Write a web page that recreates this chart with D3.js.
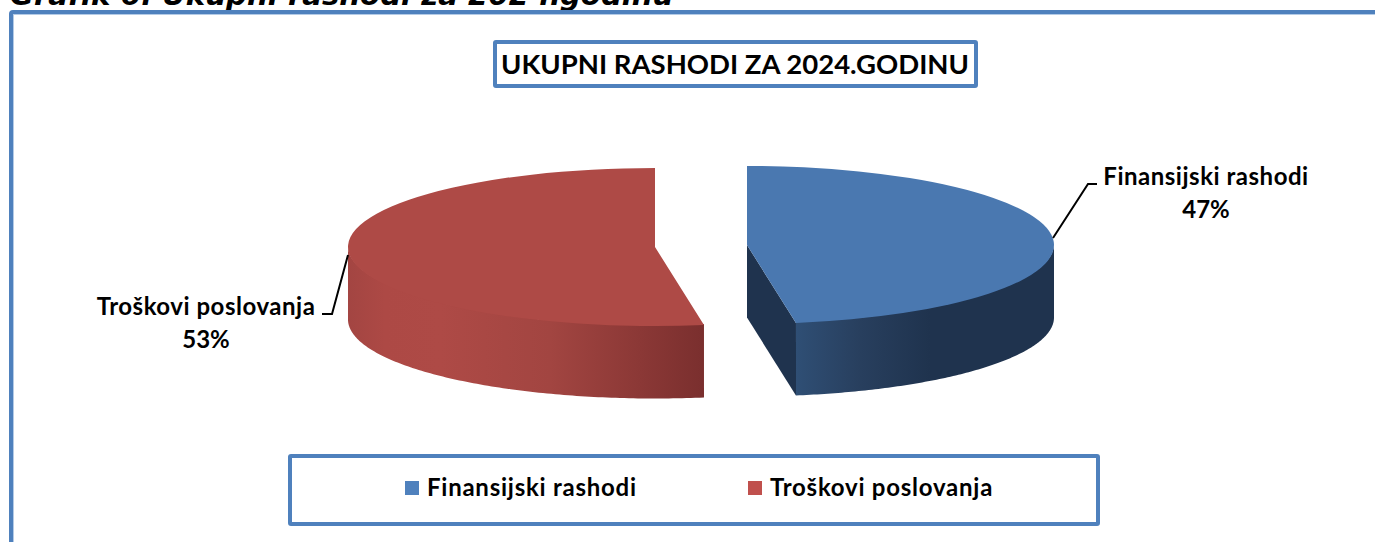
<!DOCTYPE html>
<html>
<head>
<meta charset="utf-8">
<script src="https://d3js.org/d3.v7.min.js"></script>
<style>
  html, body { margin: 0; padding: 0; background: #fff; overflow: hidden; }
  text { fill: #000; font-family: Lato, "Open Sans", sans-serif; font-weight: 700; }
</style>
</head>
<body>
<div id="chart"></div>
<script>
// values (labels round them to 47% / 53%)
var categories = ["Finansijski rashodi", "Troškovi poslovanja"];
var values = [47.45, 52.55];
var chartTitle = "UKUPNI RASHODI ZA 2024.GODINU";
var pageHeading = "Grafik 6. Ukupni rashodi za 202 ngodinu";

var width = 1375, height = 542;
var frameColor = "#4f81bd";
var legendColors = ["#4f81bd", "#c0504d"];
var topColors = ["#4a78b0", "#ae4a46"];

// pie geometry: slices are pulled apart, each has its own centre
var rx = 307, ry = 79, depth = 72.5;
var centers = [{x: 747, y: 245}, {x: 655, y: 247}];

var svg = d3.select("#chart")
  .append("svg")
    .attr("width", width)
    .attr("height", height);

// side wall shading
var defs = svg.append("defs");
function wallGradient(id, x1, x2, stops) {
  var g = defs.append("linearGradient")
    .attr("id", id)
    .attr("gradientUnits", "userSpaceOnUse")
    .attr("x1", x1).attr("x2", x2).attr("y1", 0).attr("y2", 0);
  stops.forEach(function(s) {
    g.append("stop").attr("offset", (s[0] - x1) / (x2 - x1)).attr("stop-color", s[1]);
  });
}
wallGradient("wall0", 795, 1054, [[795, "#2f4f75"], [860, "#283f5e"], [930, "#1f334e"], [1054, "#1f334e"]]);
wallGradient("wall1", 348, 704, [[348, "#a34542"], [385, "#ad4945"], [440, "#ae4a46"], [550, "#a24541"], [640, "#8b3836"], [704, "#7a2f2e"]]);

// heading from the page, cut off by the top of the window as in the source
svg.append("text")
  .attr("x", 10)
  .attr("y", 5)
  .style("font-family", "'DejaVu Sans'")
  .style("font-style", "italic")
  .style("font-size", "29.2px")
  .text(pageHeading);

// outer frame runs off the right and bottom edges
svg.append("rect")
  .attr("x", 11).attr("y", 12)
  .attr("width", 1400).attr("height", 600)
  .attr("rx", 2)
  .attr("fill", "none")
  .attr("stroke", frameColor)
  .attr("stroke-width", 4);
svg.append("rect")
  .attr("x", 13.5).attr("y", 14.5)
  .attr("width", 1400).attr("height", 600)
  .attr("fill", "none")
  .attr("stroke", "#b4cbe6")
  .attr("stroke-width", 1);

// title box
svg.append("rect")
  .attr("x", 495).attr("y", 42)
  .attr("width", 481).attr("height", 44)
  .attr("rx", 1)
  .attr("fill", "#fff")
  .attr("stroke", frameColor)
  .attr("stroke-width", 4);
svg.append("text")
  .attr("x", 735)
  .attr("y", 74)
  .attr("text-anchor", "middle")
  .style("font-size", "27.5px")
  .text(chartTitle);

// pie slices
var pie = d3.pie().sort(null);
var arcs = pie(values);
var arcGen = d3.arc().innerRadius(0).outerRadius(rx);

// point on the ellipse; angle 0 is 12 o'clock, clockwise
function rimPoint(c, a, dy) {
  return [c.x + rx * Math.sin(a), c.y - ry * Math.cos(a) + dy];
}

// outer wall between two angles, walked along top rim then back along bottom rim
// top rim sits 1px up so no white seam shows under the top face
function wallPath(c, a0, a1) {
  var steps = d3.range(0, 121).map(function(i) { return a0 + (a1 - a0) * i / 120; });
  var upper = steps.map(function(a) { return rimPoint(c, a, -1); });
  var lower = steps.slice().reverse().map(function(a) { return rimPoint(c, a, depth); });
  return d3.line()(upper.concat(lower)) + "Z";
}

var slices = svg.append("g");

// Finansijski rashodi: cut face shows, right half of the rim
var blue = arcs[0];
var c0 = centers[0];
var blueEnd = rimPoint(c0, blue.endAngle, 0);
slices.append("path")
  .attr("d", d3.line()([[c0.x, c0.y], blueEnd, [blueEnd[0], blueEnd[1] + depth], [c0.x, c0.y + depth]]) + "Z")
  .attr("fill", "#1f334e");
slices.append("path")
  .attr("d", wallPath(c0, Math.PI / 2, blue.endAngle))
  .attr("fill", "url(#wall0)");
slices.append("path")
  .attr("transform", "translate(" + c0.x + "," + c0.y + ") scale(1," + (ry / rx) + ")")
  .attr("d", arcGen(blue))
  .attr("fill", topColors[0]);

// Troškovi poslovanja: only the front of the rim is visible
var red = arcs[1];
var c1 = centers[1];
slices.append("path")
  .attr("d", wallPath(c1, red.startAngle, 3 * Math.PI / 2))
  .attr("fill", "url(#wall1)");
slices.append("path")
  .attr("transform", "translate(" + c1.x + "," + c1.y + ") scale(1," + (ry / rx) + ")")
  .attr("d", arcGen(red))
  .attr("fill", topColors[1]);

// leader lines
var leaders = [
  [[1053, 238], [1088, 184], [1097, 184]],
  [[348, 255], [332, 314], [322, 314]]
];
svg.selectAll(".leader")
  .data(leaders)
  .enter()
  .append("path")
    .attr("class", "leader")
    .attr("d", d3.line())
    .attr("fill", "none")
    .attr("stroke", "#000")
    .attr("stroke-width", 2);

// data labels
var labelPos = [{x: 1206, y: 185}, {x: 206, y: 315}];
var percent = d3.format(".0f");
categories.forEach(function(name, i) {
  svg.append("text")
    .attr("x", labelPos[i].x)
    .attr("y", labelPos[i].y)
    .attr("text-anchor", "middle")
    .style("font-size", "24px")
    .style("letter-spacing", "0.52px")
    .text(name);
  svg.append("text")
    .attr("x", labelPos[i].x)
    .attr("y", labelPos[i].y + 33)
    .attr("text-anchor", "middle")
    .style("font-size", "24px")
    .text(percent(values[i]) + "%");
});

// legend
svg.append("rect")
  .attr("x", 290).attr("y", 456)
  .attr("width", 808).attr("height", 68)
  .attr("rx", 1)
  .attr("fill", "#fff")
  .attr("stroke", frameColor)
  .attr("stroke-width", 4);

var legendX = [405, 748];
categories.forEach(function(name, i) {
  svg.append("rect")
    .attr("x", legendX[i]).attr("y", 481)
    .attr("width", 14).attr("height", 14)
    .attr("fill", legendColors[i]);
  svg.append("text")
    .attr("x", legendX[i] + 22)
    .attr("y", 496)
    .style("font-size", "24px")
    .style("letter-spacing", "0.75px")
    .text(name);
});
</script>
</body>
</html>
